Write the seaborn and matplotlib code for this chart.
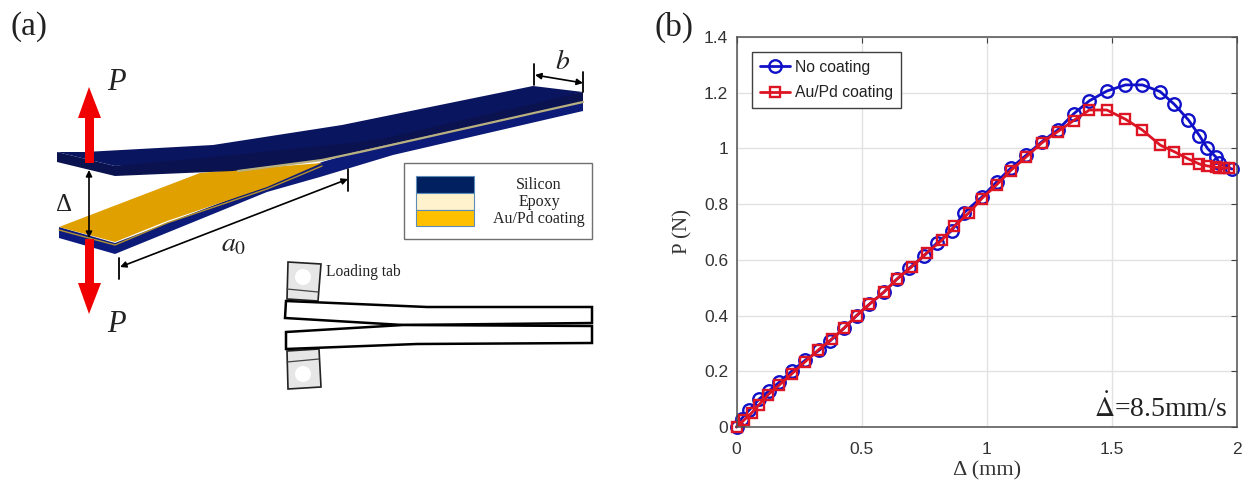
import matplotlib
matplotlib.use("Agg")
import matplotlib.pyplot as plt
from matplotlib.patches import Polygon, Circle, Rectangle
import pandas as pd
import seaborn as sns

# load-displacement curves
no_coat_x = [0, 0.02, 0.05, 0.09, 0.13, 0.17, 0.22, 0.275, 0.33, 0.375, 0.43, 0.48, 0.53, 0.59, 0.64, 0.69,
             0.75, 0.8, 0.86, 0.91, 0.98, 1.04, 1.097, 1.158, 1.22, 1.283, 1.347, 1.41, 1.48, 1.554, 1.622,
             1.693, 1.75, 1.806, 1.85, 1.882, 1.915, 1.93, 1.98]
no_coat_y = [0, 0.03, 0.06, 0.1, 0.13, 0.16, 0.2, 0.24, 0.275, 0.31, 0.355, 0.4, 0.44, 0.485, 0.53, 0.57,
             0.615, 0.66, 0.705, 0.77, 0.825, 0.88, 0.93, 0.976, 1.024, 1.066, 1.124, 1.171, 1.206, 1.228, 1.228,
             1.204, 1.158, 1.102, 1.046, 1.0, 0.97, 0.947, 0.926]
coat_x = [0, 0.03, 0.06, 0.09, 0.125, 0.17, 0.22, 0.275, 0.325, 0.38, 0.43, 0.48, 0.53, 0.59, 0.64, 0.7,
          0.76, 0.82, 0.87, 0.93, 0.98, 1.04, 1.095, 1.158, 1.22, 1.283, 1.347, 1.41, 1.48, 1.554, 1.622,
          1.693, 1.75, 1.806, 1.85, 1.882, 1.915, 1.93, 1.95, 1.97]
coat_y = [0, 0.025, 0.05, 0.08, 0.115, 0.15, 0.19, 0.235, 0.275, 0.315, 0.355, 0.4, 0.44, 0.485, 0.53, 0.575,
          0.625, 0.67, 0.72, 0.77, 0.82, 0.87, 0.92, 0.97, 1.02, 1.06, 1.1, 1.138, 1.138, 1.105, 1.066,
          1.012, 0.988, 0.962, 0.944, 0.937, 0.933, 0.931, 0.93, 0.93]
x_ticks = [0, 0.5, 1, 1.5, 2]
x_tick_labels = ["0", "0.5", "1", "1.5", "2"]
y_ticks = [0, 0.2, 0.4, 0.6, 0.8, 1, 1.2, 1.4]
y_tick_labels = ["0", "0.2", "0.4", "0.6", "0.8", "1", "1.2", "1.4"]
layer_names = ["Silicon", "Epoxy", "Au/Pd coating"]

W, H = 1253, 482
SERIF = "Liberation Serif"

sns.set_theme(style="whitegrid")
plt.rcParams["font.family"] = ["Liberation Sans", "DejaVu Sans"]
plt.rcParams["mathtext.fontset"] = "stix"

fig = plt.figure(figsize=(W / 100, H / 100), dpi=100, facecolor="white")

# panel (b)
ax = fig.add_axes([736.5 / W, (H - 427) / H, 500.5 / W, 390 / H])
df_a = pd.DataFrame({"x": no_coat_x, "y": no_coat_y})
df_b = pd.DataFrame({"x": coat_x, "y": coat_y})
sns.lineplot(data=df_a, x="x", y="y", ax=ax, sort=False, errorbar=None, color="#1010c8", linewidth=2,
             marker="o", markersize=9, markerfacecolor="none", markeredgecolor="#1010c8", markeredgewidth=1.7,
             label="No coating", clip_on=False)
sns.lineplot(data=df_b, x="x", y="y", ax=ax, sort=False, errorbar=None, color="#dc1423", linewidth=2,
             marker="s", markersize=7.5, markerfacecolor="none", markeredgecolor="#dc1423", markeredgewidth=1.7,
             label="Au/Pd coating", clip_on=False)
ax.set_xlim(0, 2)
ax.set_ylim(0, 1.4)
ax.set_xticks(x_ticks)
ax.set_xticklabels(x_tick_labels)
ax.set_yticks(y_ticks)
ax.set_yticklabels(y_tick_labels)
ax.grid(True, color="#e2e2e2", linewidth=1)
ax.tick_params(direction="in", top=True, right=True, length=4, width=0.8, color="#404040",
               labelcolor="#333333", labelsize=12.5, pad=6)
ax.tick_params(axis="x", pad=11)
for s in ax.spines.values():
    s.set_color("#505050")
    s.set_linewidth(1.1)
ax.set_xlabel("")
ax.set_ylabel("")
leg = ax.legend(loc="upper left", bbox_to_anchor=(0.031, 0.962), borderaxespad=0, fontsize=11.3,
                frameon=True, fancybox=False, framealpha=1, edgecolor="#404040", handlelength=1.95,
                labelspacing=0.66, borderpad=0.5, handletextpad=0.3)
leg.get_frame().set_linewidth(1)
for t in leg.get_texts():
    t.set_color("#222222")

# panel (a) and free text, drawn in picture pixels
ov = fig.add_axes([0, 0, 1, 1], zorder=5)
ov.set_xlim(0, W)
ov.set_ylim(H, 0)
ov.axis("off")


def poly(pts, fc, ec="none", lw=0, z=2):
    ov.add_patch(Polygon(pts, closed=True, facecolor=fc, edgecolor=ec, linewidth=lw, zorder=z))


NAVY = "#0a1560"
NAVY_DARK = "#0a1250"
GOLD = "#e0a000"

# lower beam
poly([(59, 227), (115, 243), (115, 254), (59, 238)], "#0c1a80", z=2)
poly([(115, 243), (267, 185), (322, 162), (360, 151), (583, 102), (583, 111), (393, 155), (320, 177),
      (267, 192), (115, 254)], "#0c1a78", z=2)
poly([(59, 227), (200, 173), (233, 170), (322, 163), (267, 187), (167, 221), (115, 242)], GOLD, z=3)
ov.plot([59, 115, 167, 267, 322], [230, 245, 223, 189, 166], color="#b09030", lw=1, zorder=3)
# upper beam
poly([(57, 152), (57, 162), (115, 176), (233, 171), (322, 160), (360, 151), (583, 102), (583, 92),
      (115, 166)], NAVY_DARK, z=4)
poly([(57, 152), (85, 152), (213, 145), (342, 125), (533, 86), (583, 92), (390, 137), (360, 142),
      (213, 157), (115, 166)], NAVY, z=4)
# epoxy line
ov.plot([238, 322, 360, 583], [171, 160, 152, 102], color="#b8b080", lw=1.6, zorder=5)

# load arrows
red = "#f00000"
poly([(85, 163), (85, 118), (78, 118), (89, 87), (101, 118), (94, 118), (94, 163)], red, z=6)
poly([(85, 239), (85, 283), (78, 283), (89, 314), (101, 283), (94, 283), (94, 239)], red, z=6)


def dim(x0, y0, x1, y1):
    ov.annotate("", xy=(x1, y1), xytext=(x0, y0), zorder=7,
                arrowprops=dict(arrowstyle="<|-|>", color="black", lw=1.2, shrinkA=0, shrinkB=0, mutation_scale=9))


dim(89, 170, 89, 238)
dim(120, 267, 348, 179)
dim(535, 75, 583, 83)
ov.plot([119, 119], [258, 279], color="black", lw=1.3, zorder=7)
ov.plot([348, 348], [169, 191], color="black", lw=1.3, zorder=7)
ov.plot([534, 534], [64, 85], color="black", lw=1.3, zorder=7)
ov.plot([583, 583], [72, 92], color="black", lw=1.3, zorder=7)

# layer key
ov.add_patch(Rectangle((404, 163), 188, 76, facecolor="white", edgecolor="#707070", linewidth=1, zorder=2))
for y0, h, c in zip([176, 193, 210], [17, 17, 16], ["#002060", "#fff2cc", "#ffc000"]):
    ov.add_patch(Rectangle((416, y0), 58, h, facecolor=c, edgecolor="#5b8db8", linewidth=0.8, zorder=3))
for name, y in zip(layer_names, [185, 202, 219]):
    ov.text(539, y, name, family=SERIF, fontsize=11.5, color="#222222", ha="center", va="center")

# specimen sketch
for pts, cx, cy, ln in [
    ([(288, 262), (321, 264), (318, 301), (287, 299)], 303, 277, [(287, 289), (318, 292)]),
    ([(287, 351), (319, 349), (321, 387), (288, 389)], 303, 374, [(287, 362), (319, 359)]),
]:
    poly(pts, "#e6e6e6", ec="#222222", lw=1.2, z=2)
    ov.add_patch(Circle((cx, cy), 8, facecolor="white", edgecolor="none", zorder=3))
    ov.plot([ln[0][0], ln[1][0]], [ln[0][1], ln[1][1]], color="#444444", lw=0.9, zorder=3)
poly([(286, 301), (427, 307), (592, 307), (592, 323), (403, 325), (285, 318)], "white", ec="black", lw=1.8, z=4)
poly([(286, 332), (403, 325), (592, 326), (592, 343), (417, 344), (286, 349)], "white", ec="black", lw=1.8, z=4)
ov.text(326, 272, "Loading tab", family=SERIF, fontsize=11.2, color="#222222", ha="left", va="center")

# labels
ov.text(11, 27, "(a)", family=SERIF, fontsize=24, color="#222222", ha="left", va="center")
ov.text(655, 27, "(b)", family=SERIF, fontsize=24, color="#222222", ha="left", va="center")
ov.text(116, 82, "P", family=SERIF, style="italic", fontsize=22, color="#222222", ha="center", va="center")
ov.text(116, 325, "P", family=SERIF, style="italic", fontsize=22, color="#222222", ha="center", va="center")
ov.text(64, 205, "Δ", family=SERIF, fontsize=18, color="#222222", ha="center", va="center")
ov.text(234, 244, r"$a_0$", fontsize=20, color="#222222", ha="center", va="center")
ov.text(563, 62, r"$b$", fontsize=20, color="#222222", ha="center", va="center")
ov.text(683, 232, "P (N)", family=SERIF, fontsize=15, color="#333333", rotation=90, ha="center", va="center")
ov.text(987, 471, "Δ (mm)", family=SERIF, fontsize=16, color="#333333", ha="center", va="center")
ov.text(1161, 408, r"$\dot{\Delta}$=8.5mm/s", family=SERIF, fontsize=20, color="#222222", ha="center", va="center")

fig.savefig("out.png", dpi=100, facecolor="white")
print("DONE")
